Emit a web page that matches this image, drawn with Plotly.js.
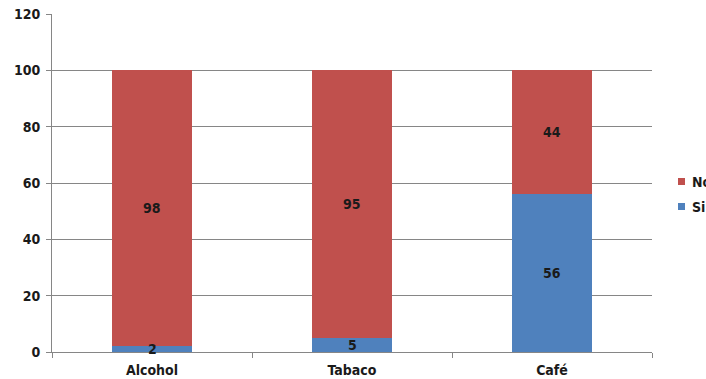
<!DOCTYPE html>
<html><head><meta charset="utf-8">
<script src="https://cdn.plot.ly/plotly-3.0.1.min.js"></script>
<style>html,body{margin:0;padding:0;background:#fff;}#chart{width:706px;height:379px;}</style>
</head><body><div id="chart"></div>
<script>
const categories = ["Alcohol", "Tabaco", "Café"];
const siValues = [2, 5, 56];
const noValues = [98, 95, 44];
const yTicks = [0, 20, 40, 60, 80, 100, 120];
const legendNames = ["No", "Si"];
const legendColors = ["#C0504D", "#4F81BD"];

const fontBase = {family: "Liberation Sans Narrow, DejaVu Sans Condensed, Arial, sans-serif", size: 14, color: "#1a1a1a", weight: "bold"};

const traces = [
  {type: "bar", name: "Si", x: categories, y: siValues, marker: {color: "#4F81BD"}, hoverinfo: "none", showlegend: false},
  {type: "bar", name: "No", x: categories, y: noValues, marker: {color: "#C0504D"}, hoverinfo: "none", showlegend: false}
];

const annotations = [];
categories.forEach((c, i) => {
  annotations.push({x: c, y: siValues[i] / 2, xref: "x", yref: "y", text: String(siValues[i]), showarrow: false, font: fontBase});
  annotations.push({x: c, y: siValues[i] + noValues[i] / 2, xref: "x", yref: "y", text: String(noValues[i]), showarrow: false, font: fontBase});
});

// custom legend (pixel -> paper conversion for plot area l=52,w=600,t=14,h=338)
const px = v => (v - 52) / 600;
const py = v => (352 - v) / 338;
const shapes = [];
legendNames.forEach((n, k) => {
  const cy = 181.5 + k * 25;
  shapes.push({type: "rect", xref: "paper", yref: "paper", x0: px(678), x1: px(685), y0: py(cy + 3.5), y1: py(cy - 3.5), fillcolor: legendColors[k], line: {width: 0}});
  annotations.push({xref: "paper", yref: "paper", x: px(690), y: py(cy), xanchor: "left", yanchor: "middle", text: n, showarrow: false, font: fontBase});
});

const layout = {
  width: 706, height: 379,
  margin: {l: 52, r: 54, t: 14, b: 27},
  paper_bgcolor: "#ffffff", plot_bgcolor: "#ffffff",
  barmode: "stack", bargap: 0.6,
  font: fontBase,
  showlegend: false,
  xaxis: {type: "category", showgrid: false, showline: true, linecolor: "#868686", linewidth: 1, ticks: "outside", tickson: "boundaries", ticklen: 5, tickcolor: "#868686", tickfont: fontBase, ticklabelstandoff: 5, zeroline: false, fixedrange: true, automargin: false},
  yaxis: {range: [0, 120], tickvals: yTicks, ticktext: yTicks.map(String), showgrid: true, gridcolor: "#868686", gridwidth: 1, showline: true, linecolor: "#868686", ticks: "outside", ticklen: 5, tickcolor: "#868686", tickfont: fontBase, ticklabelstandoff: 3, zeroline: false, fixedrange: true, automargin: false},
  annotations: annotations,
  shapes: shapes
};

Plotly.newPlot("chart", traces, layout, {displayModeBar: false, staticPlot: true});
</script></body></html>
